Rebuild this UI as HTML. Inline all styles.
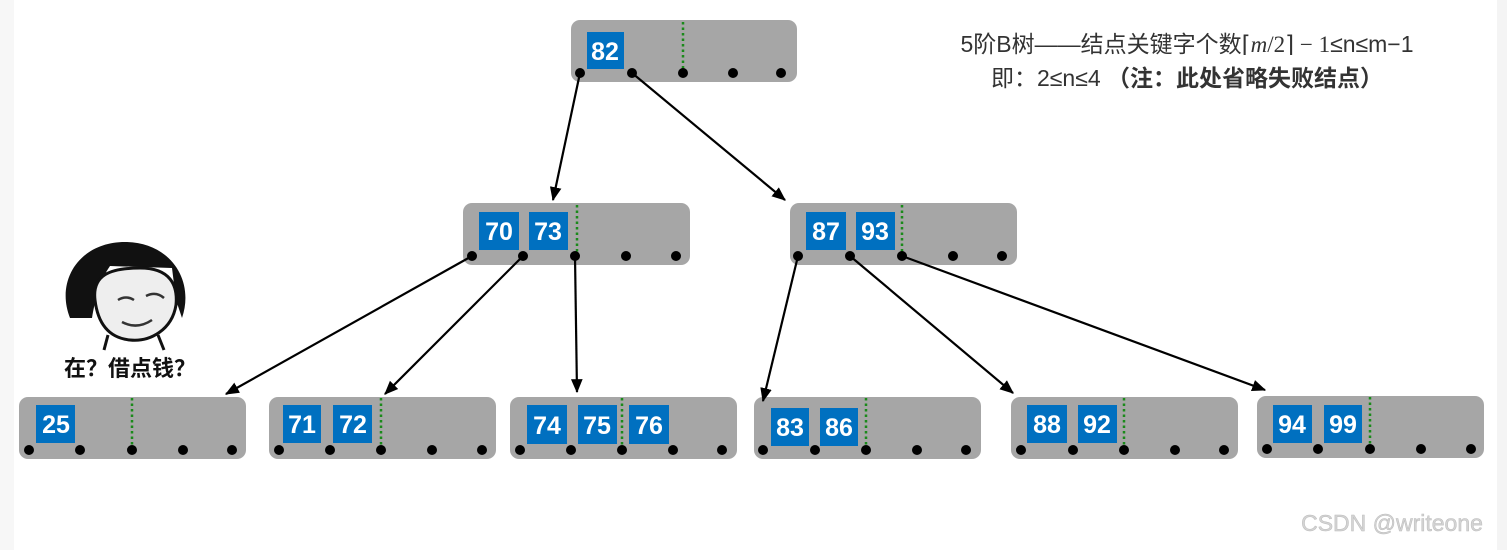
<!DOCTYPE html>
<html><head><meta charset="utf-8"><style>
html,body{margin:0;padding:0;background:#fff;width:1507px;height:550px;overflow:hidden}
svg{display:block}
.k{font-family:"Liberation Sans",sans-serif;font-size:25px;font-weight:bold;fill:#fff;text-anchor:middle}
</style></head><body>
<svg width="1507" height="550" viewBox="0 0 1507 550" xmlns="http://www.w3.org/2000/svg">
<defs><marker id="a" markerWidth="10" markerHeight="10" refX="9" refY="5" orient="auto" markerUnits="userSpaceOnUse"><path d="M0,0 L10,5 L0,10 Z" fill="#000"/></marker>
<marker id="b" viewBox="0 0 12 12" markerWidth="14" markerHeight="14" refX="11" refY="6" orient="auto" markerUnits="userSpaceOnUse"><path d="M0,1 L12,6 L0,11 Z" fill="#000"/></marker></defs>
<rect x="0" y="0" width="14" height="550" fill="#f7f7f7"/>
<rect x="1497" y="0" width="10" height="550" fill="#f4f4f4"/>
<g fill="#a6a6a6">
<rect x="571" y="20" width="226" height="62" rx="9"/>
<rect x="463" y="203" width="227" height="62" rx="9"/>
<rect x="790" y="203" width="227" height="62" rx="9"/>
<rect x="19" y="397" width="227" height="62" rx="9"/>
<rect x="269" y="397" width="227" height="62" rx="9"/>
<rect x="510" y="397" width="227" height="62" rx="9"/>
<rect x="754" y="397" width="227" height="62" rx="9"/>
<rect x="1011" y="397" width="227" height="62" rx="9"/>
<rect x="1257" y="396" width="227" height="62" rx="9"/>
</g>
<g fill="#0070c0">
<rect x="587" y="32" width="37" height="37"/>
<rect x="479" y="212" width="40" height="38"/><rect x="529" y="212" width="39" height="38"/>
<rect x="806" y="212" width="40" height="38"/><rect x="856" y="212" width="39" height="38"/>
<rect x="36" y="405" width="39" height="38"/>
<rect x="283" y="405" width="38" height="38"/><rect x="333" y="405" width="39" height="38"/>
<rect x="527" y="405" width="40" height="39"/><rect x="578" y="405" width="39" height="39"/><rect x="629" y="405" width="40" height="39"/>
<rect x="771" y="408" width="38" height="38"/><rect x="820" y="408" width="38" height="38"/>
<rect x="1027" y="405" width="40" height="38"/><rect x="1078" y="405" width="39" height="38"/>
<rect x="1273" y="405" width="39" height="38"/><rect x="1324" y="405" width="38" height="38"/>
</g>
<g class="k">
<text x="605" y="60">82</text>
<text x="499" y="240">70</text><text x="548" y="240">73</text>
<text x="826" y="240">87</text><text x="875" y="240">93</text>
<text x="56" y="433">25</text>
<text x="302" y="433">71</text><text x="353" y="433">72</text>
<text x="547" y="434">74</text><text x="597" y="434">75</text><text x="649" y="434">76</text>
<text x="790" y="436">83</text><text x="839" y="436">86</text>
<text x="1047" y="433">88</text><text x="1097" y="433">92</text>
<text x="1292" y="433">94</text><text x="1343" y="433">99</text>
</g>
<g stroke="#1a8a1a" stroke-width="2.5" stroke-dasharray="2.5 3">
<line x1="683" y1="22" x2="683" y2="70"/>
<line x1="577" y1="205" x2="577" y2="252"/>
<line x1="902" y1="205" x2="902" y2="252"/>
<line x1="132" y1="398" x2="132" y2="446"/>
<line x1="381" y1="398" x2="381" y2="446"/>
<line x1="622" y1="398" x2="622" y2="446"/>
<line x1="866" y1="398" x2="866" y2="446"/>
<line x1="1124" y1="398" x2="1124" y2="446"/>
<line x1="1370" y1="397" x2="1370" y2="445"/>
</g>
<g stroke="#000" stroke-width="2.2" fill="none" marker-end="url(#b)">
<line x1="580" y1="73" x2="553" y2="200"/>
<line x1="632" y1="73" x2="785" y2="200"/>
<line x1="472" y1="256" x2="226" y2="394"/>
<line x1="523" y1="256" x2="385" y2="394"/>
<line x1="575" y1="256" x2="577" y2="392"/>
<line x1="798" y1="256" x2="763" y2="401"/>
<line x1="850" y1="256" x2="1013" y2="393"/>
<line x1="902" y1="256" x2="1265" y2="390"/>
</g>
<g fill="#000">
<circle cx="580" cy="73" r="5"/><circle cx="632" cy="73" r="5"/><circle cx="683" cy="73" r="5"/><circle cx="733" cy="73" r="5"/><circle cx="781" cy="73" r="5"/>
<circle cx="472" cy="256" r="5"/><circle cx="523" cy="256" r="5"/><circle cx="575" cy="256" r="5"/><circle cx="626" cy="256" r="5"/><circle cx="676" cy="256" r="5"/>
<circle cx="798" cy="256" r="5"/><circle cx="850" cy="256" r="5"/><circle cx="902" cy="256" r="5"/><circle cx="953" cy="256" r="5"/><circle cx="1002" cy="256" r="5"/>
<circle cx="29" cy="450" r="5"/><circle cx="80" cy="450" r="5"/><circle cx="132" cy="450" r="5"/><circle cx="183" cy="450" r="5"/><circle cx="232" cy="450" r="5"/>
<circle cx="279" cy="450" r="5"/><circle cx="330" cy="450" r="5"/><circle cx="381" cy="450" r="5"/><circle cx="432" cy="450" r="5"/><circle cx="482" cy="450" r="5"/>
<circle cx="520" cy="450" r="5"/><circle cx="571" cy="450" r="5"/><circle cx="622" cy="450" r="5"/><circle cx="673" cy="450" r="5"/><circle cx="722" cy="450" r="5"/>
<circle cx="763" cy="450" r="5"/><circle cx="815" cy="450" r="5"/><circle cx="866" cy="450" r="5"/><circle cx="917" cy="450" r="5"/><circle cx="966" cy="450" r="5"/>
<circle cx="1021" cy="450" r="5"/><circle cx="1073" cy="450" r="5"/><circle cx="1124" cy="450" r="5"/><circle cx="1175" cy="450" r="5"/><circle cx="1224" cy="450" r="5"/>
<circle cx="1267" cy="449" r="5"/><circle cx="1318" cy="449" r="5"/><circle cx="1370" cy="449" r="5"/><circle cx="1421" cy="449" r="5"/><circle cx="1471" cy="449" r="5"/>
</g>
<!-- meme face -->
<g>
<path d="M70,318 C55,280 80,242 125,242 C170,242 195,280 182,318 L176,300 L172,268 L110,266 C100,280 95,300 92,318 Z" fill="#111"/>
<path d="M95,300 C92,275 110,268 140,268 C170,268 178,285 176,305 C172,330 150,342 130,340 C110,338 98,325 95,300 Z" fill="#eee" stroke="#111" stroke-width="3"/>
<path d="M118,300 q8,-5 16,0 M146,296 q10,-5 18,2 M122,322 q15,8 30,-2" stroke="#333" stroke-width="2.5" fill="none"/>
<path d="M108,335 L104,350 M158,335 L164,350" stroke="#111" stroke-width="3"/>
</g>
<text x="130" y="376" text-anchor="middle" font-family="'Liberation Sans','Noto Sans CJK SC',sans-serif" font-size="22" font-weight="bold" fill="#111">在？借点钱？</text>
<text x="1187" y="52" text-anchor="middle" font-family="'Liberation Sans','Noto Sans CJK SC',sans-serif" font-size="23" fill="#333">5阶B树——结点关键字个数⌈<tspan font-family="'Liberation Serif',serif" font-style="italic">m</tspan><tspan font-family="'Liberation Serif',serif">/2⌉ − 1</tspan>≤n≤m−1</text>
<text x="1187" y="86" text-anchor="middle" font-family="'Liberation Sans','Noto Sans CJK SC',sans-serif" font-size="23" fill="#333">即：2≤n≤4 <tspan font-weight="bold">（注：此处省略失败结点）</tspan></text>
<text x="1392" y="531" text-anchor="middle" font-family="'Liberation Sans',sans-serif" font-size="23" fill="#d4d4d4" stroke="#bbb" stroke-width="0.5">CSDN @writeone</text>
</svg>
</body></html>
